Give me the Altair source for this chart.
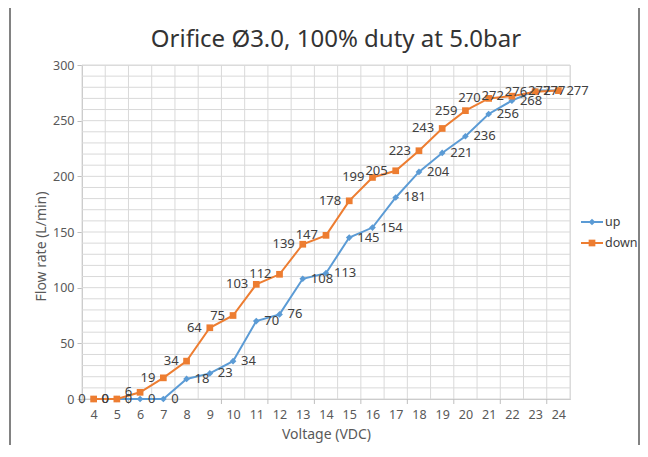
import altair as alt
import pandas as pd

voltage = list(range(4, 25))
up = [0, 0, 0, 0, 18, 23, 34, 70, 76, 108, 113, 145, 154, 181, 204, 221, 236, 256, 268, 277, 277]
down = [0, 0, 6, 19, 34, 64, 75, 103, 112, 139, 147, 178, 199, 205, 223, 243, 259, 270, 272, 276, 277]
series = ["up", "down"]
colors = ["#5B9BD5", "#ED7D31"]
shapes = ["diamond", "square"]
y_ticks = [0, 50, 100, 150, 200, 250, 300]
title_text = "Orifice Ø3.0, 100% duty at 5.0bar"

FONT = "Noto Sans"
W, H = 488, 334

df = pd.DataFrame({
    "Voltage": voltage * 2,
    "Flow": up + down,
    "series": ["up"] * len(up) + ["down"] * len(down),
})

xs = alt.Scale(domain=[voltage[0] - 0.5, voltage[-1] + 0.5], nice=False, zero=False)
ys = alt.Scale(domain=[0, 300], nice=False)

x_axis = alt.Axis(values=voltage, grid=False, ticks=False, tickSize=0,
                  domainColor="#BFBFBF", labelFontSize=12.5, labelColor="#595959",
                  labelFont=FONT, labelPadding=9, title="Voltage (VDC)",
                  titleFont=FONT, titleFontSize=14, titleFontWeight="normal",
                  titleColor="#595959", titlePadding=7)
y_axis = alt.Axis(values=y_ticks, grid=False, tickSize=5, tickColor="#BFBFBF",
                  domainColor="#BFBFBF", labelFontSize=12.5, labelColor="#595959",
                  labelFont=FONT, labelPadding=3, title="Flow rate  (L/min)",
                  titleFont=FONT, titleFontSize=14, titleFontWeight="normal",
                  titleColor="#595959", titlePadding=4, titleY=181)

bounds = pd.DataFrame({"b": [v - 0.5 for v in voltage] + [voltage[-1] + 0.5]})
hlines = pd.DataFrame({"g": list(range(0, 301, 10))})
xtick = pd.DataFrame({"b": [v - 0.5 for v in voltage if (v - voltage[0]) % 2 == 0]})

vgrid = alt.Chart(bounds).mark_rule(color="#D9D9D9", strokeWidth=1).encode(
    x=alt.X("b:Q", scale=xs, axis=x_axis),
)
hgrid = alt.Chart(hlines).mark_rule(color="#D9D9D9", strokeWidth=1).encode(
    y=alt.Y("g:Q", scale=ys, axis=y_axis),
)
ticks = alt.Chart(xtick).mark_rule(color="#BFBFBF").encode(
    x=alt.X("b:Q", scale=xs, axis=x_axis),
    y=alt.value(H), y2=alt.value(H + 5),
)

layers = [vgrid, hgrid, ticks]
for s, c, sh, sz in zip(series, colors, shapes, [45, 45]):
    sd = df[df["series"] == s]
    base = alt.Chart(sd).encode(
        x=alt.X("Voltage:Q", scale=xs, axis=x_axis),
        y=alt.Y("Flow:Q", scale=ys, axis=y_axis),
    )
    layers.append(base.mark_line(color=c, strokeWidth=2))
    layers.append(base.mark_point(shape=sh, filled=True, color=c, size=sz, opacity=1))

for s, dx, al in zip(series, [8, -8], ["left", "right"]):
    sd = df[df["series"] == s]
    layers.append(
        alt.Chart(sd).mark_text(align=al, baseline="middle", dx=dx, font=FONT,
                                fontSize=13, color="#404040").encode(
            x=alt.X("Voltage:Q", scale=xs, axis=x_axis),
            y=alt.Y("Flow:Q", scale=ys, axis=y_axis),
            text="Flow:Q",
        )
    )

# legend
leg_y = [157, 178]
for s, c, sh, sz, ly in zip(series, colors, shapes, [45, 45], leg_y):
    ld = pd.DataFrame({"series": [s]})
    layers.append(alt.Chart(ld).mark_rule(color=c, strokeWidth=2).encode(
        x=alt.value(499), x2=alt.value(521), y=alt.value(ly)))
    layers.append(alt.Chart(ld).mark_point(shape=sh, filled=True, color=c, size=sz, opacity=1).encode(
        x=alt.value(510), y=alt.value(ly)))
    layers.append(alt.Chart(ld).mark_text(align="left", baseline="middle", font=FONT,
                                          fontSize=12.5, color="#404040").encode(
        x=alt.value(523), y=alt.value(ly), text="series:N"))

one = pd.DataFrame({"t": [title_text]})
layers.append(alt.Chart(one).mark_text(align="center", baseline="alphabetic", font=FONT,
                                       fontSize=24, color="#333333").encode(
    x=alt.value(254), y=alt.value(-18), text="t:N"))
layers.append(alt.Chart(one).mark_rect(filled=False, stroke="#595959", strokeWidth=1.5).encode(
    x=alt.value(-72), x2=alt.value(557), y=alt.value(-59), y2=alt.value(420)))

chart = alt.layer(*layers).properties(
    width=W, height=H,
    autosize=alt.AutoSizeParams(type="none"),
    padding={"left": 74, "top": 57, "right": 70, "bottom": 46},
).configure_view(stroke=None).configure(background="white")

chart.save("out.html", embed_options={"renderer": "svg", "actions": False})
